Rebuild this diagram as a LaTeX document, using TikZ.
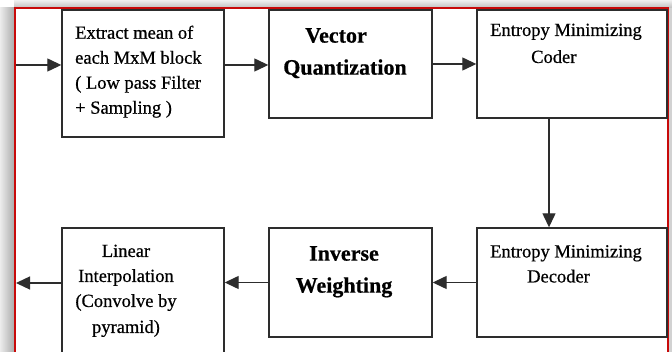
\documentclass[tikz,border=0pt]{standalone}
\usepackage{fontspec}
\setmainfont{Liberation Serif}[FakeBold=0.6]
\newfontfamily\labelfont{Liberation Serif}[FakeBold=0.6]
\usetikzlibrary{arrows.meta}
\definecolor{inkgray}{RGB}{45,45,45}
\definecolor{framered}{RGB}{200,10,10}
\begin{document}
\begin{tikzpicture}[x=1pt,y=-1pt,
  blk/.style={draw=inkgray, line width=1.4pt, inner sep=0pt, fill=white},
  arr/.style={draw=inkgray, line width=1.3pt, -{Triangle[length=14pt,width=13pt]}},
  txt/.style={font=\labelfont\fontsize{18.5}{25}\selectfont\addfontfeature{FakeBold=0.6}, inner sep=0pt, align=left, text=black},
  hdr/.style={font=\fontsize{22}{32}\selectfont\bfseries, inner sep=0pt, align=center, text=black}]
\useasboundingbox (0,0) rectangle (672,352);
\clip (0,0) rectangle (672,352);

% page shadow and frame
\fill[white] (0,0) rectangle (672,352);
\shade[left color=gray!15, right color=gray!65] (0,8) rectangle (14,352);
\shade[top color=gray!12, bottom color=gray!50] (14,0) rectangle (672,8);
\fill[gray!35] (669,8) rectangle (672,352);
\draw[framered, line width=2pt] (15,8) rectangle (668,420);

% blocks
\node[blk, minimum width=162pt, minimum height=127pt] (b1) at (143,73.5) {};
\node[blk, minimum width=163pt, minimum height=108pt] (b2) at (350.5,64) {};
\node[blk, minimum width=190pt, minimum height=108pt] (b3) at (572,64) {};
\node[blk, minimum width=190pt, minimum height=109pt] (b4) at (572,282.5) {};
\node[blk, minimum width=163pt, minimum height=109pt] (b5) at (350.5,282.5) {};
\node[blk, minimum width=162pt, minimum height=140pt] (b6) at (143,298) {};

% labels
\node[txt, anchor=north west] (t1) at (75,25.5) {Extract mean of\\each MxM block\\( Low pass Filter\\+ Sampling )};
\node[hdr, anchor=north] (t2) at (345,28) {Vector\hspace*{18pt}\\Quantization};
\node[txt, anchor=north west] (t3) at (490,23.5) {Entropy Minimizing\\[2pt]\hspace*{41pt}Coder};
\node[txt, anchor=north west] (t4) at (490,245) {Entropy Minimizing\\\hspace*{37pt}Decoder};
\node[hdr, anchor=north] (t5) at (344,246) {Inverse\\Weighting};
\node[txt, align=center, anchor=north] (t6) at (126,244.5) {Linear\\Interpolation\\(Convolve by\\[1pt]pyramid)};

% connectors
\coordinate (in) at (16,65);
\coordinate (out) at (16,283);
\coordinate (dn) at (549,0);
\draw[arr] (in) -- (in -| b1.west);
\draw[arr] (b1.east |- in) -- (b2.west |- in);
\draw[arr] (b2.east) -- (b3.west);
\draw[arr] (b3.south -| dn) -- (b4.north -| dn);
\draw[arr] (b4.west) -- (b5.east);
\draw[arr] (b5.west) -- (b6.east |- b5.west);
\draw[arr] (b6.west |- out) -- (out);
\end{tikzpicture}
\end{document}
